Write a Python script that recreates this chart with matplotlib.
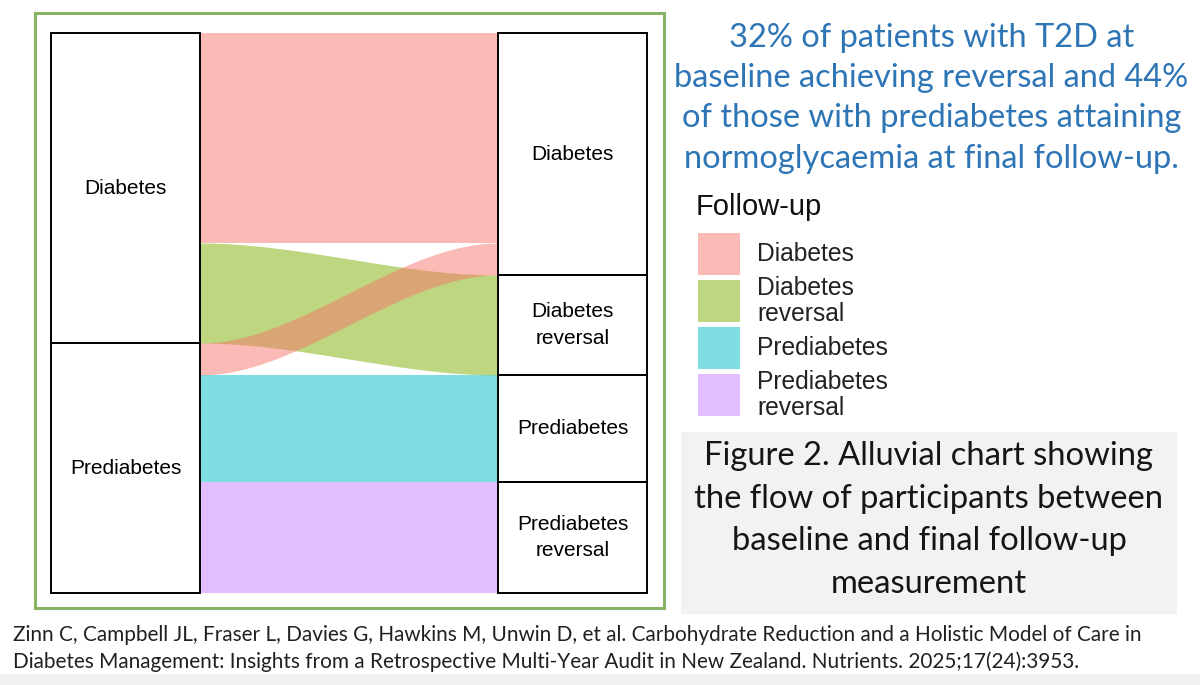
import numpy as np
import matplotlib
matplotlib.use("Agg")
import matplotlib.pyplot as plt
from matplotlib.patches import Rectangle

# Data (estimated participant counts per flow)
baseline = ["Diabetes", "Prediabetes"]
followup = ["Diabetes", "Diabetes reversal", "Prediabetes", "Prediabetes reversal"]
flow_from = [0, 0, 1, 1, 1]
flow_to = [0, 1, 0, 2, 3]
flow_n = [210, 100, 32, 107, 111]

followup_labels = ["Diabetes", "Diabetes\nreversal", "Prediabetes", "Prediabetes\nreversal"]
fill_colors = ["#F8766D", "#7CAE00", "#00BFC4", "#C77CFF"]

headline = ["32% of patients with T2D at",
            "baseline achieving reversal and 44%",
            "of those with prediabetes attaining",
            "normoglycaemia at final follow-up."]
caption = ["Figure 2. Alluvial chart showing",
           "the flow of participants between",
           "baseline and final follow-up",
           "measurement"]
citation = ["Zinn C, Campbell JL, Fraser L, Davies G, Hawkins M, Unwin D, et al. Carbohydrate Reduction and a Holistic Model of Care in",
            "Diabetes Management: Insights from a Retrospective Multi-Year Audit in New Zealand. Nutrients. 2025;17(24):3953."]

W, H = 1200, 685
BLUE = "#2E75B6"
SANS = "Liberation Sans"
HUMAN = "Lato"


def fx(px):
    return px / W


def fy(py):
    return 1 - py / H


def fit_block(texts, widest, target, fig):
    """Scale font size of a block of texts so the widest line spans target px"""
    renderer = fig.canvas.get_renderer()
    width = texts[widest].get_window_extent(renderer).width
    scale = target / width
    for t in texts:
        t.set_fontsize(t.get_fontsize() * scale)


fig = plt.figure(figsize=(W / 100, H / 100), dpi=100, facecolor="white")

# Outer green frame and gray boxes
fig.patches.append(Rectangle((fx(35), fy(608)), (664 - 35) / W, (608 - 13) / H,
                             transform=fig.transFigure, fill=False, ec="#88B264", lw=2.2))
fig.patches.append(Rectangle((fx(681), fy(614)), (1177 - 681) / W, (614 - 432) / H,
                             transform=fig.transFigure, fc="#F2F2F2", ec="none"))
fig.patches.append(Rectangle((0, 0), 1, 11 / H, transform=fig.transFigure,
                             fc="#F0F0F0", ec="none"))

# Alluvial plot
total = sum(flow_n)
ax = fig.add_axes([fx(51), fy(593), (647 - 51) / W, (593 - 33) / H])
ax.set_xlim(1 - 1 / 6, 2 + 1 / 6)
ax.set_ylim(total, 0)
ax.axis("off")

left_tot = [sum(n for f, n in zip(flow_from, flow_n) if f == i) for i in range(len(baseline))]
right_tot = [sum(n for t, n in zip(flow_to, flow_n) if t == j) for j in range(len(followup))]
left_top = np.concatenate([[0], np.cumsum(left_tot)[:-1]])
right_top = np.concatenate([[0], np.cumsum(right_tot)[:-1]])

# flow offsets inside each stratum
order_left = sorted(range(len(flow_n)), key=lambda k: (flow_from[k], flow_to[k]))
order_right = sorted(range(len(flow_n)), key=lambda k: (flow_to[k], flow_from[k]))
yl = {}
acc = dict(enumerate(left_top))
for k in order_left:
    yl[k] = acc[flow_from[k]]
    acc[flow_from[k]] += flow_n[k]
yr = {}
acc = dict(enumerate(right_top))
for k in order_right:
    yr[k] = acc[flow_to[k]]
    acc[flow_to[k]] += flow_n[k]

x0, x1 = 1 + 1 / 6, 2 - 1 / 6
xs = np.linspace(x0, x1, 200)
t = (xs - x0) / (x1 - x0)
s = 3 * t ** 2 - 2 * t ** 3
for k in range(len(flow_n)):
    top = yl[k] + (yr[k] - yl[k]) * s
    ax.fill_between(xs, top, top + flow_n[k], color=fill_colors[flow_to[k]],
                    alpha=0.5, lw=0)

# Strata
for i, name in enumerate(baseline):
    ax.add_patch(Rectangle((1 - 1 / 6, left_top[i]), 1 / 3, left_tot[i], fill=False,
                           ec="black", lw=1.4, clip_on=False))
    ax.text(1, left_top[i] + left_tot[i] / 2, name, ha="center", va="center",
            fontsize=15, family=SANS)
for j, name in enumerate(followup_labels):
    ax.add_patch(Rectangle((2 - 1 / 6, right_top[j]), 1 / 3, right_tot[j], fill=False,
                           ec="black", lw=1.4, clip_on=False))
    ax.text(2, right_top[j] + right_tot[j] / 2, name, ha="center", va="center",
            fontsize=15, family=SANS, linespacing=1.5)

# Legend (ggplot style: square keys, wrapped labels)
fig.text(fx(696), fy(215), "Follow-up", ha="left", va="baseline",
         fontsize=21, family=SANS, color="#111111")
key_top = 233
for label, color in zip(followup_labels, fill_colors):
    fig.patches.append(Rectangle((fx(698), fy(key_top + 42)), 42 / W, 42 / H,
                                 transform=fig.transFigure, fc=color, alpha=0.5, ec="none"))
    fig.text(fx(757), fy(key_top + 21), label, ha="left", va="center",
             fontsize=17.7, family=SANS, linespacing=1.08, color="#222222")
    key_top += 47

# Headline text
head = [fig.text(fx(931.5), fy(y), line, ha="center", va="baseline", color=BLUE,
                 family=HUMAN, fontsize=22)
        for line, y in zip(headline, [47, 87, 127, 168])]
cap = [fig.text(fx(929), fy(y), line, ha="center", va="baseline", color="#151515",
                family=HUMAN, fontsize=22)
       for line, y in zip(caption, [465, 508, 550, 593])]
cit = [fig.text(fx(13), fy(y), line, ha="left", va="baseline", color="#202020",
                family=HUMAN, fontsize=14)
       for line, y in zip(citation, [641, 668])]

fig.canvas.draw()
fit_block(head, 1, 513, fig)
fit_block(cap, 1, 468, fig)
fit_block(cit, 0, 1130, fig)

fig.savefig("out.png", dpi=100, facecolor="white")
